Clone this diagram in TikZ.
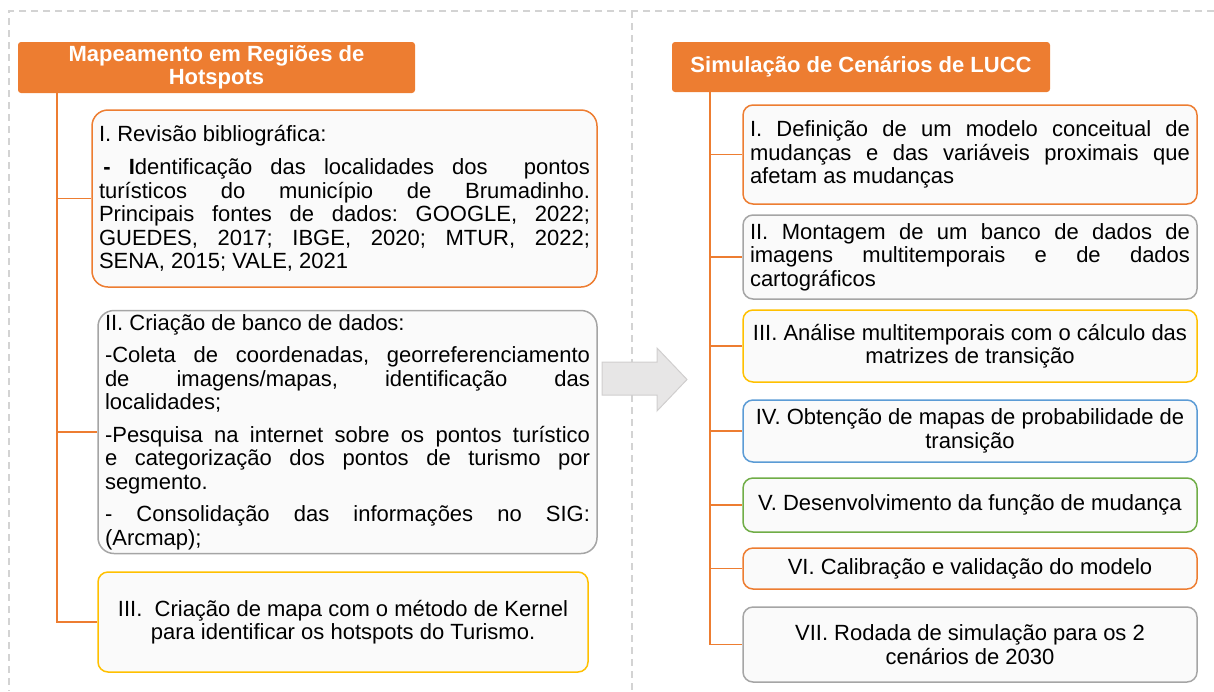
\documentclass[tikz,border=0pt]{standalone}
\usepackage{fontspec}
\setmainfont{Liberation Sans}
\setlength{\parindent}{0pt}
\frenchspacing
\hbadness=10000
\definecolor{lorange}{HTML}{ED7D31}
\definecolor{lgray}{HTML}{A5A5A5}
\definecolor{lyellow}{HTML}{FFC000}
\definecolor{lblue}{HTML}{5B9BD5}
\definecolor{lgreen}{HTML}{70AD47}
\definecolor{boxfill}{HTML}{FAFAFA}
\definecolor{framegray}{HTML}{D3D3D3}
\definecolor{arrowfill}{HTML}{E7E6E6}
\definecolor{arrowline}{HTML}{D0CECE}

\begin{document}
\begin{tikzpicture}[x=1pt,y=-1pt,
		frame/.style={draw=framegray,line width=1.6pt,dash pattern=on 7pt off 5pt},
		head/.style={fill=lorange,rounded corners=3pt,text=white,align=center,inner sep=0pt,
			font=\fontsize{22}{23}\selectfont\bfseries},
		box/.style={draw=#1,fill=boxfill,line width=1.5pt,rounded corners=10pt,
			inner xsep=7pt,inner ysep=2pt,font=\fontsize{22}{23.5}\selectfont},
		branch/.style={draw=lorange,line width=1.8pt}]
		\useasboundingbox (0,0) rectangle (1214,691);
		% moldura tracejada
		\draw[frame] (1214,11) -- (9,11) -- (9,691);
		\draw[frame] (632,11) -- (632,691);
		% lado esquerdo
		\node[head,minimum width=397pt,minimum height=51pt] (Map) at (216.5,67.5) {Mapeamento em Regiões de\\Hotspots};
		\node[box=lorange,rounded corners=16pt,text width=491pt,align=justify,minimum height=177pt] (MapI) at (344.5,198.5) {%
			I. Revisão bibliográfica:\par\vspace{10pt}
			\hspace*{0.2em}\textbf{-} \textbf{I}dentificação das localidades dos\ \ pontos\linebreak
			turísticos do município de Brumadinho.\linebreak
			Principais fontes de dados: GOOGLE, 2022;\linebreak
			GUEDES, 2017; IBGE, 2020; MTUR, 2022;\linebreak
			SENA, 2015; VALE, 2021};
		\node[box=lgray,rounded corners=16pt,text width=485pt,align=justify,minimum height=243pt] (MapII) at (347.5,432) {%
			II. Criação de banco de dados:\par\vspace{9pt}
			-Coleta de coordenadas, georreferenciamento\linebreak
			de imagens/mapas, identificação das\linebreak
			localidades;\par\vspace{9pt}
			-Pesquisa na internet sobre os pontos turístico\linebreak
			e categorização dos pontos de turismo por\linebreak
			segmento.\par\vspace{9pt}
			- Consolidação das informações no SIG:\linebreak
			(Arcmap);};
		\node[box=lyellow,minimum width=490pt,align=center,minimum height=100pt] (MapIII) at (343,622) {III.\ \ Criação de mapa com o método de Kernel\\para identificar os hotspots do Turismo.};
		\coordinate (tl) at (57,93);
		\draw[branch] (tl) |- (MapIII.west);
		\foreach \n in {MapI,MapII}
			\draw[branch] (tl |- \n.west) -- (\n.west);
		% seta
		\draw[fill=arrowfill,draw=arrowline,line width=1pt] (602,362) -- (657,362) -- (657,348) -- (687,379.5) -- (657,411) -- (657,395) -- (602,395) -- cycle;
		% lado direito
		\node[head,minimum width=378pt,minimum height=50pt] (Sim) at (861,67) {Simulação de Cenários de LUCC};
		\node[box=lorange,text width=440pt,align=justify,minimum height=99pt] (SimI) at (970,154.5) {%
			I. Definição de um modelo conceitual de\linebreak
			mudanças e das variáveis proximais que\linebreak
			afetam as mudanças};
		\node[box=lgray,text width=440pt,align=justify,minimum height=84pt] (SimII) at (970,257) {%
			II. Montagem de um banco de dados de\linebreak
			imagens multitemporais e de dados\linebreak
			cartográficos};
		\node[box=lyellow,inner xsep=3pt,minimum width=454pt,align=center,minimum height=72pt] (SimIII) at (970,346) {III. Análise multitemporais com o cálculo das\\matrizes de transição};
		\node[box=lblue,minimum width=454pt,align=center,minimum height=62pt] (SimIV) at (970,431) {IV. Obtenção de mapas de probabilidade de\\transição};
		\node[box=lgreen,minimum width=454pt,align=center,minimum height=54pt] (SimV) at (970,505) {V. Desenvolvimento da função de mudança};
		\node[box=lorange,minimum width=454pt,align=center,minimum height=41pt] (SimVI) at (970,568.5) {VI. Calibração e validação do modelo};
		\node[box=lgray,minimum width=454pt,align=center,minimum height=75pt] (SimVII) at (970,644.5) {VII. Rodada de simulação para os 2\\cenários de 2030};
		\coordinate (tr) at (710,92);
		\draw[branch] (tr) |- (SimVII.west);
		\foreach \n in {SimI,SimII,SimIII,SimIV,SimV,SimVI}
			\draw[branch] (tr |- \n.west) -- (\n.west);
	\end{tikzpicture}
\end{document}
